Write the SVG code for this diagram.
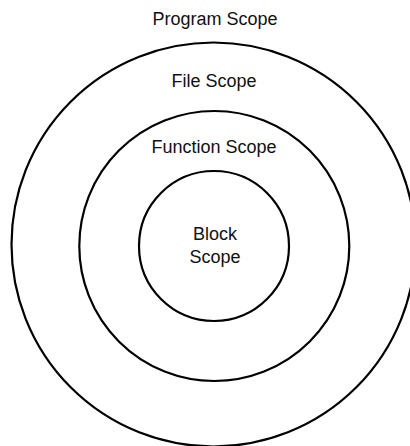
<svg xmlns="http://www.w3.org/2000/svg" width="410" height="446" viewBox="0 0 410 446">
<style>
.ring{fill:none;stroke:#000;stroke-width:2.2}
.lbl{font-family:"Liberation Sans",Arial,Helvetica,sans-serif;font-size:18px;fill:#111;text-anchor:middle}
</style>
<rect width="410" height="446" fill="#fff"/>
<g id="program-scope">
<text class="lbl" x="215" y="24.5">Program Scope</text>
</g>
<g id="file-scope">
<circle class="ring" cx="213.5" cy="244.5" r="202"/>
<text class="lbl" x="214" y="87">File Scope</text>
</g>
<g id="function-scope">
<circle class="ring" cx="214.3" cy="246" r="135"/>
<text class="lbl" x="214" y="153">Function Scope</text>
</g>
<g id="block-scope">
<circle class="ring" cx="214" cy="246" r="75"/>
<text class="lbl" x="215" y="240">Block</text>
<text class="lbl" x="215" y="263">Scope</text>
</g>
<g id="connectors"></g>
</svg>
